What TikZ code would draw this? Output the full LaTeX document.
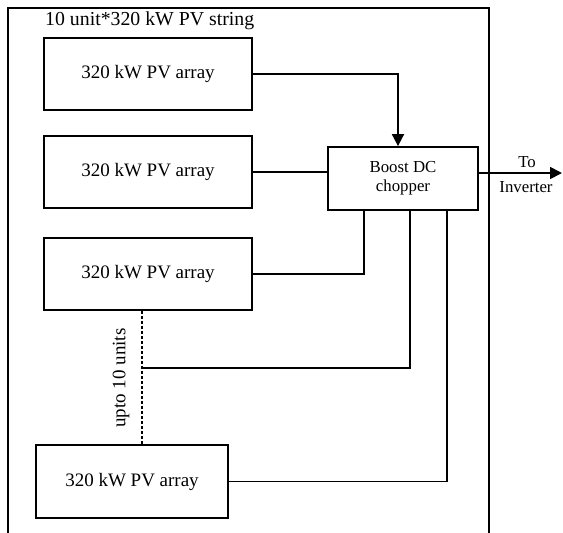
\documentclass[tikz,border=0pt]{standalone}
\usepackage{fontspec}
\setmainfont{Liberation Serif}
\usetikzlibrary{arrows.meta}
\begin{document}
\begin{tikzpicture}[x=1pt,y=-1pt,
  wire/.style={line width=1.8pt},
  pvbox/.style={draw,line width=1.8pt,minimum width=208pt,minimum height=72pt,inner sep=0pt,font=\fontsize{19}{21}\selectfont},
  boostbox/.style={draw,line width=1.8pt,minimum width=150pt,minimum height=63pt,inner sep=0pt,align=center,font=\fontsize{16.8}{19}\selectfont},
  lbl/.style={inner sep=0pt},
  tip/.style={-{Triangle[length=12pt,width=12pt]}}]
\useasboundingbox (0,0) rectangle (563,533);
\fill[white] (0,0) rectangle (563,533);
% outer frame (open at bottom)
\draw[wire] (8,533) -- (8,8) -- (489,8) -- (489,533);
\node[lbl,anchor=west,font=\fontsize{19.8}{21}\selectfont] (title) at (45,21) {10 unit*320 kW PV string};
% boxes
\node[pvbox] (b1) at (148,74) {320 kW PV array};
\node[pvbox] (b2) at (148,172) {320 kW PV array};
\node[pvbox] (b3) at (148,274) {320 kW PV array};
\node[pvbox,minimum width=192pt,minimum height=73pt] (b4) at (132,481.5) {320 kW PV array};
\node[boostbox] (boost) at (403,178.5) {Boost DC\\chopper};
% connectors
\draw[wire,tip] (b1.east) -| ([xshift=-5pt]boost.north);
\draw[wire] (b2.east) -- (b2.east -| boost.west);
\draw[wire] (b3.east) -| ([xshift=-39pt]boost.south);
\coordinate (j) at (142,368);
\draw[wire,dashed,dash pattern=on 3pt off 2pt,line width=1.5pt] ([xshift=-6pt]b3.south) -- ([xshift=10pt]b4.north);
\draw[wire] (j) -| ([xshift=7pt]boost.south);
\draw[wire] (b4.east) -| ([xshift=44pt]boost.south);
\coordinate (out) at (562,173);
\draw[wire,tip] (boost.east |- out) -- (out);
\node[lbl,font=\fontsize{16.8}{19}\selectfont] (to) at (527,162) {To};
\node[lbl,font=\fontsize{16.8}{19}\selectfont] (inv) at (526,187) {Inverter};
\node[lbl,rotate=90,font=\fontsize{19}{21}\selectfont] (units) at (121,378) {upto 10 units};
\end{tikzpicture}
\end{document}
